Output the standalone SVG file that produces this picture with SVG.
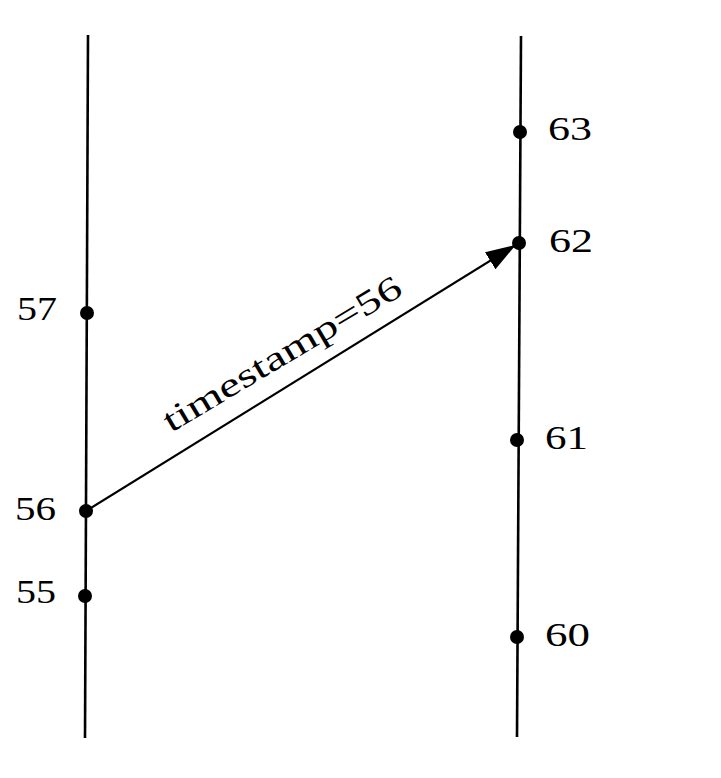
<svg xmlns="http://www.w3.org/2000/svg" width="721" height="778" viewBox="0 0 721 778">
<style>
.tl{stroke:#000;stroke-width:2.6;fill:none}
.msg{stroke:#000;stroke-width:2.2;fill:none}
.ev{fill:#000}
.lbl{font-family:"Liberation Serif","DejaVu Serif",serif;font-size:34px;fill:#000}
</style>
<defs>
<marker id="ah" viewBox="0 0 30 20" refX="28" refY="10" markerWidth="30" markerHeight="20" markerUnits="userSpaceOnUse" orient="auto">
<path d="M0,0 L30,10 L0,20 Z" fill="#000"/>
</marker>
</defs>
<g id="timelines">
<line class="tl" x1="88" y1="35" x2="85" y2="738"/>
<line class="tl" x1="521" y1="36" x2="517" y2="737"/>
</g>
<g id="connectors">
<line class="msg" x1="86" y1="511" x2="514" y2="246" marker-end="url(#ah)"/>
<text class="lbl" transform="translate(171,433) rotate(-30.8)" textLength="272" lengthAdjust="spacingAndGlyphs">timestamp=56</text>
</g>
<g id="n57"><circle class="ev" cx="87" cy="313" r="7"/><text class="lbl" x="17" y="320" textLength="40" lengthAdjust="spacingAndGlyphs">57</text></g>
<g id="n56"><circle class="ev" cx="86" cy="511" r="7"/><text class="lbl" x="15" y="520" textLength="41" lengthAdjust="spacingAndGlyphs">56</text></g>
<g id="n55"><circle class="ev" cx="85" cy="596" r="7"/><text class="lbl" x="16" y="603" textLength="40" lengthAdjust="spacingAndGlyphs">55</text></g>
<g id="n63"><circle class="ev" cx="520" cy="132" r="7"/><text class="lbl" x="548" y="140" textLength="44" lengthAdjust="spacingAndGlyphs">63</text></g>
<g id="n62"><circle class="ev" cx="519" cy="243" r="7"/><text class="lbl" x="549" y="252" textLength="44" lengthAdjust="spacingAndGlyphs">62</text></g>
<g id="n61"><circle class="ev" cx="517" cy="440" r="7"/><text class="lbl" x="545" y="449" textLength="43" lengthAdjust="spacingAndGlyphs">61</text></g>
<g id="n60"><circle class="ev" cx="517" cy="637" r="7"/><text class="lbl" x="545" y="646" textLength="45" lengthAdjust="spacingAndGlyphs">60</text></g>
</svg>
